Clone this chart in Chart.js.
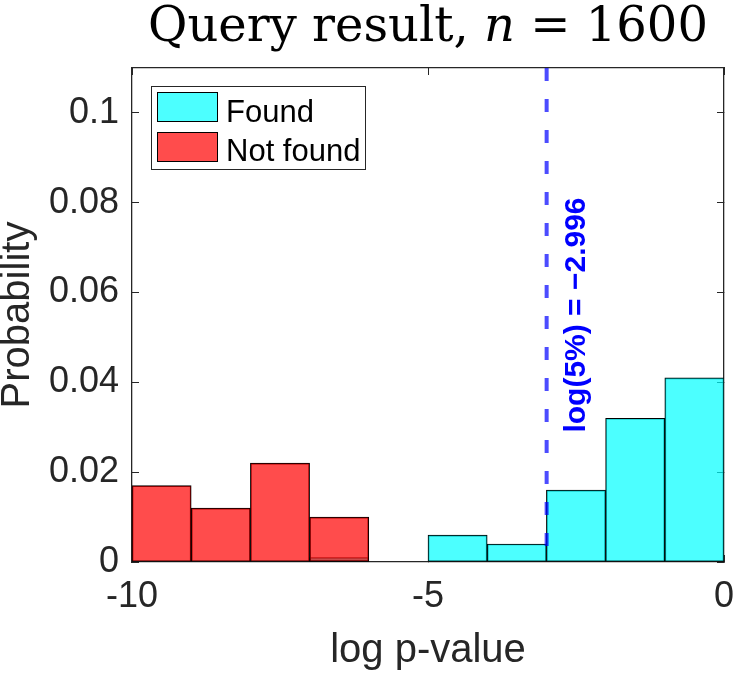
<!DOCTYPE html>
<html><head><meta charset="utf-8">
<script src="https://cdn.jsdelivr.net/npm/chart.js@4.4.1/dist/chart.umd.min.js"></script>
<style>html,body{margin:0;padding:0;background:#fff;}#wrap{width:737px;height:676px;position:relative;}</style>
</head><body><div id="wrap"><canvas id="c"></canvas></div>
<script>
// ---- data ----
const binEdges = [-10,-9,-8,-7,-6,-5,-4,-3,-2,-1,0];
const foundValues = [0,0,0,0.001,0,0.006,0.004,0.016,0.032,0.041];
const notFoundValues = [0.017,0.012,0.022,0.010,0,0,0,0,0,0];
const seriesNames = ['Found','Not found'];
const thresholdValue = -2.996;
const thresholdText = 'log(5%) = \u22122.996';
const xTicks = [-10,-5,0];
const xTickLabels = ['-10','-5','0'];
const yTicks = [0,0.02,0.04,0.06,0.08,0.1];
const yTickLabels = ['0','0.02','0.04','0.06','0.08','0.1'];
const xRange = [-10,0];
const yRange = [0,0.11];
const titleParts = ['Query result, ','n',' = 1600'];
const xLabel = 'log p-value';
const yLabel = 'Probability';

// ---- build ----
function toBars(vals){
  return vals.map((v,i)=>({x:(binEdges[i]+binEdges[i+1])/2, y: v>0 ? v : null}));
}
const AXIS = '#262626';
const SANS = "'Liberation Sans', Arial, sans-serif";

const titlePlugin = {
  id:'mtitle',
  afterDraw(chart){
    const ctx = chart.ctx, ca = chart.chartArea;
    ctx.save();
    const fN = "48px 'DejaVu Serif', serif";
    const fI = "italic 48px 'DejaVu Serif', serif";
    const fonts = [fN,fI,fN];
    let widths = titleParts.map((t,i)=>{ctx.font=fonts[i];return ctx.measureText(t).width;});
    const total = widths.reduce((a,b)=>a+b,0);
    let x = (ca.left+ca.right)/2 - total/2;
    ctx.fillStyle = '#000';
    ctx.textBaseline = 'alphabetic';
    ctx.textAlign = 'left';
    titleParts.forEach((t,i)=>{ctx.font=fonts[i];ctx.fillText(t,x,41);x+=widths[i];});
    ctx.restore();
  }
};

const legendPlugin = {
  id:'mlegend',
  afterDraw(chart){
    const ctx = chart.ctx, ca = chart.chartArea;
    const ds = chart.data.datasets.filter(d=>d.type==='bar');
    ctx.save();
    const bx = ca.left+19, by = ca.top+18, bw = 214, bh = 83;
    ctx.fillStyle = '#fff';
    ctx.fillRect(bx,by,bw,bh);
    ctx.strokeStyle = AXIS; ctx.lineWidth = 1;
    ctx.strokeRect(bx+0.5,by+0.5,bw,bh);
    ds.forEach((d,i)=>{
      const sy = ca.top+24 + i*40;
      ctx.fillStyle = '#fff';
      ctx.fillRect(ca.left+25, sy, 61, 30);
      ctx.fillStyle = d.backgroundColor;
      ctx.fillRect(ca.left+25, sy, 61, 30);
      ctx.strokeStyle = '#000'; ctx.lineWidth = 1;
      ctx.strokeRect(ca.left+25.5, sy+0.5, 60, 29);
      ctx.fillStyle = '#000';
      ctx.font = "31px " + SANS;
      ctx.textBaseline = 'alphabetic'; ctx.textAlign='left';
      ctx.fillText(d.label, ca.left+94, ca.top+54 + i*39);
    });
    ctx.restore();
  }
};

const thresholdLabelPlugin = {
  id:'mthr',
  afterDatasetsDraw(chart){
    const ctx = chart.ctx;
    const xs = chart.scales.x, ys = chart.scales.y;
    const px = xs.getPixelForValue(thresholdValue) + 38;
    const py = ys.getPixelForValue(0.055);
    ctx.save();
    ctx.translate(px,py);
    ctx.rotate(-Math.PI/2);
    ctx.font = "bold 30px " + SANS;
    ctx.fillStyle = '#0000ff';
    ctx.textAlign = 'center';
    ctx.textBaseline = 'alphabetic';
    ctx.fillText(thresholdText,0,0);
    ctx.restore();
  }
};

function setTicks(arr){ return s => { s.ticks = arr.map(v=>({value:v})); }; }
function fixSize(w,h){
  return s => {
    if (w !== null) s.width = w;
    if (h !== null) s.height = h;
    s.paddingLeft = 0; s.paddingRight = 0; s.paddingTop = 0; s.paddingBottom = 0;
  };
}

const gridOpts = {drawOnChartArea:false, tickLength:-7, color:AXIS, lineWidth:1, offset:false};
const borderOpts = {color:AXIS, width:1.3};

new Chart(document.getElementById('c'), {
  type:'bar',
  data:{
    datasets:[
      {type:'line', label:'threshold', order:0,
       data:[{x:thresholdValue,y:yRange[1]},{x:thresholdValue,y:yRange[0]}],
       borderColor:'rgba(0,0,255,0.7)', borderWidth:4, borderDash:[13,18],
       pointRadius:0, fill:false, tension:0},
      {type:'bar', label:seriesNames[0], order:2, data:toBars(foundValues),
       backgroundColor:'rgba(0,255,255,0.7)', borderColor:'#000', borderWidth:1, borderSkipped:false,
       barPercentage:1, categoryPercentage:1, grouped:false},
      {type:'bar', label:seriesNames[1], order:1, data:toBars(notFoundValues),
       backgroundColor:'rgba(255,0,0,0.7)', borderColor:'#000', borderWidth:1, borderSkipped:false,
       barPercentage:1, categoryPercentage:1, grouped:false}
    ]
  },
  options:{
    responsive:true, maintainAspectRatio:false, animation:false,
    layout:{padding:{top:68,right:13,left:0,bottom:0}},
    plugins:{legend:{display:false}, tooltip:{enabled:false}, title:{display:false}},
    scales:{
      x:{type:'linear', position:'bottom', min:xRange[0], max:xRange[1], z:1, offset:false,
         afterBuildTicks:setTicks(xTicks),
         ticks:{callback:(v,i)=>xTickLabels[i], font:{family:SANS,size:36}, color:AXIS, padding:20, maxRotation:0, autoSkip:false},
         grid:gridOpts, border:borderOpts,
         title:{display:true, text:xLabel, font:{family:SANS,size:40}, color:AXIS, padding:{top:0,bottom:1}},
         afterFit:fixSize(null,114)},
      xTop:{type:'linear', position:'top', min:xRange[0], max:xRange[1], z:1, offset:false,
         afterBuildTicks:setTicks(xTicks), ticks:{display:false},
         grid:gridOpts, border:borderOpts, afterFit:fixSize(null,0)},
      y:{type:'linear', position:'left', min:yRange[0], max:yRange[1], z:1,
         afterBuildTicks:setTicks(yTicks),
         ticks:{callback:(v,i)=>yTickLabels[i], font:{family:SANS,size:36}, color:AXIS, padding:20, autoSkip:false},
         grid:gridOpts, border:borderOpts,
         title:{display:true, text:yLabel, font:{family:SANS,size:40,lineHeight:0.9}, color:AXIS, padding:0},
         afterFit:fixSize(132,null)},
      yRight:{type:'linear', position:'right', min:yRange[0], max:yRange[1], z:1,
         afterBuildTicks:setTicks(yTicks), ticks:{display:false},
         grid:gridOpts, border:borderOpts, afterFit:fixSize(0,null)}
    }
  },
  plugins:[titlePlugin, legendPlugin, thresholdLabelPlugin]
});
</script>
</body></html>
